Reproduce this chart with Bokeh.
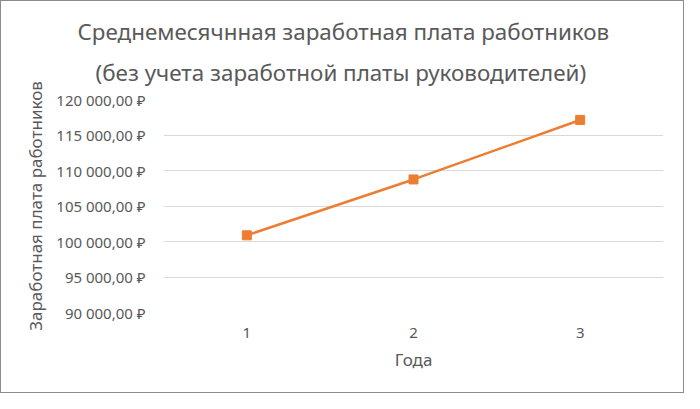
from bokeh.plotting import figure
from bokeh.models import FixedTicker, Title
from bokeh.embed import file_html
from bokeh.resources import INLINE

# данные
years = ["1", "2", "3"]
salary = [100870, 108740, 117120]

y_ticks = [90000, 95000, 100000, 105000, 110000, 115000, 120000]
y_tick_labels = ["90 000,00 ₽", "95 000,00 ₽", "100 000,00 ₽", "105 000,00 ₽",
                 "110 000,00 ₽", "115 000,00 ₽", "120 000,00 ₽"]

title_1 = "Среднемесячнная заработная плата работников"
title_2 = "(без учета заработной платы руководителей)"

gray = "#595959"
font = "Noto Sans"

p = figure(x_range=years, y_range=(90000, 120000), width=684, height=393,
           output_backend="svg", toolbar_location=None,
           min_border_left=162, min_border_right=22,
           min_border_top=98, min_border_bottom=82)
p.x_range.range_padding = 0
p.outline_line_color = None
p.styles = {"border": "1px solid #8c8c8c"}

# заголовок в две строки (последний добавленный — выше);
# сдвиг влево, чтобы центр был посередине всей диаграммы
p.add_layout(Title(text=title_2, align="left", offset=-68, vertical_align="top",
                   text_font=font, text_font_size="22.4px", text_font_style="normal",
                   text_color=gray, standoff=20), "above")
p.add_layout(Title(text=title_1, align="left", offset=-86, text_font=font,
                   text_font_size="22.4px", text_font_style="normal",
                   text_color=gray, standoff=0), "above")

p.line(years, salary, color="#ED7D31", line_width=2.5)
p.scatter(years, salary, marker="square", size=9, color="#ED7D31")

p.yaxis.ticker = FixedTicker(ticks=y_ticks)
p.yaxis.major_label_overrides = dict(zip(y_ticks, y_tick_labels))
p.yaxis.axis_label = "Заработная плата работников"
p.xaxis.axis_label = "Года"

for ax in (p.xaxis, p.yaxis):
    ax.axis_line_color = None
    ax.major_tick_line_color = None
    ax.minor_tick_line_color = None
    ax.major_label_text_font = font
    ax.major_label_text_font_size = "15px"
    ax.major_label_text_color = gray
    ax.axis_label_text_font = font
    ax.axis_label_text_font_size = "17px"
    ax.axis_label_text_font_style = "normal"
    ax.axis_label_text_color = gray

p.yaxis.major_label_standoff = 12
p.yaxis.axis_label_standoff = 6
p.xaxis.major_label_standoff = 9
p.xaxis.axis_label_standoff = 7

p.xgrid.grid_line_color = None
p.ygrid.grid_line_color = "#d9d9d9"
p.ygrid.grid_line_width = 1

open("out.html", "w").write(file_html(p, INLINE))
